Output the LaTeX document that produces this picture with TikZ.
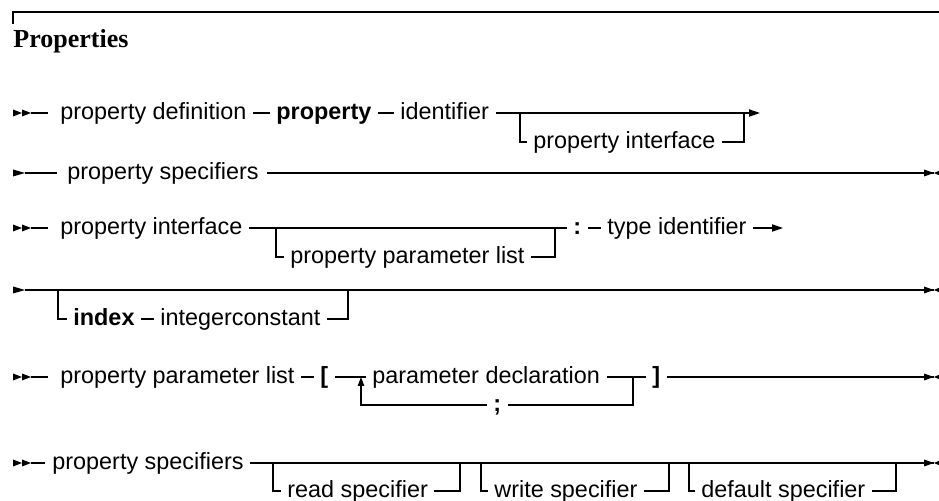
\documentclass[tikz,border=0pt]{standalone}
\usepackage{fontspec}
\setmainfont{Liberation Sans}
\newfontfamily\headfont{Liberation Serif}
\usetikzlibrary{arrows.meta,calc}
\begin{document}
\begin{tikzpicture}[x=0.5pt,y=-0.5pt,
  every node/.style={font=\fontsize{11.7}{14}\selectfont},
  tok/.style={anchor=west, inner xsep=0pt, inner ysep=0pt, text height=6.1pt, text depth=0pt},
  ln/.style={line width=0.6pt},
  gap/.style={shorten <=3.25pt, shorten >=3.25pt},
  tip/.style={-{Triangle[length=5.5pt,width=3.6pt]}},
  dbl/.pic={\fill (0,-3.5) -- (9,0) -- (0,3.5) -- cycle; \fill (9,-3.5) -- (18,0) -- (9,3.5) -- cycle;},
  sgl/.pic={\fill (0,-3.5) -- (12,0) -- (0,3.5) -- cycle;},
  endm/.pic={\fill (-10,-3.5) -- (0,0) -- (-10,3.5) -- cycle; \fill (8,-3.5) -- (0,0) -- (8,3.5) -- cycle;},
]
\useasboundingbox (0,0) rectangle (939,501);

% heading
\coordinate (r0) at (13,24);
\coordinate (r1) at (13,12);
\coordinate (r2) at (939,12);
\draw[line width=0.7pt] (r0) -- (r1) -- (r2);
\node[anchor=base west, inner sep=0pt, font=\headfont\bfseries\fontsize{13}{15}\selectfont] (title) at (13,48) {Properties};

% row 1
\pic at (13,113) {dbl};
\coordinate (s1e) at (31,113);
\node[tok] (a1) at (60,113) {property definition};
\node[tok] (a2) at (276,113) {\bfseries property};
\node[tok] (a3) at (400,113) {identifier};
\coordinate (j1) at (520,113);
\coordinate (k1) at (744,113);
\coordinate (e1) at (760,113);
\node[tok] (a4) at (533,142) {property interface};
\draw[ln,shorten >=6pt] (s1e) -- (a1.west);
\draw[ln,gap] (a1.east) -- (a2.west);
\draw[ln,gap] (a2.east) -- (a3.west);
\draw[ln,tip,shorten <=3.25pt] (a3.east) -- (e1);
\draw[ln,shorten >=3pt] (j1) |- (a4.west);
\draw[ln,shorten <=3.25pt] (a4.east) -| (k1);

% row 2
\pic at (13,173) {sgl};
\coordinate (s2e) at (25,173);
\node[tok] (b1) at (67,173) {property specifiers};
\coordinate (e2) at (934,173);
\draw[ln,shorten >=5pt] (s2e) -- (b1.west);
\draw[ln,shorten <=4pt] (b1.east) -- (e2);
\pic at (e2) {endm};

% row 3
\pic at (13,228) {dbl};
\coordinate (s3e) at (31,228);
\node[tok] (c1) at (60,228) {property interface};
\coordinate (j3) at (276,228);
\coordinate (k3) at (555,228);
\node[tok] (c2) at (290,257) {property parameter list};
\node[tok] (c3) at (573,228) {\bfseries :};
\node[tok] (c4) at (607,228) {type identifier};
\coordinate (e3) at (783,228);
\draw[ln,shorten >=6pt] (s3e) -- (c1.west);
\draw[ln,gap] (c1.east) -- (c3.west);
\draw[ln,shorten >=3pt] (j3) |- (c2.west);
\draw[ln,shorten <=3.25pt] (c2.east) -| (k3);
\draw[ln,gap] (c3.east) -- (c4.west);
\draw[ln,tip,shorten <=3.25pt] (c4.east) -- (e3);

% row 4
\pic at (13,290) {sgl};
\coordinate (s4e) at (25,290);
\coordinate (j4) at (58,290);
\coordinate (k4) at (348,290);
\coordinate (e4) at (934,290);
\node[tok] (d1) at (73,319) {\bfseries index};
\node[tok] (d2) at (160,319) {integerconstant};
\draw[ln] (s4e) -- (e4);
\draw[ln,shorten >=3pt] (j4) |- (d1.west);
\draw[ln,gap] (d1.east) -- (d2.west);
\draw[ln,shorten <=3.25pt] (d2.east) -| (k4);
\pic at (e4) {endm};

% row 5
\pic at (13,377) {dbl};
\coordinate (s5e) at (31,377);
\node[tok] (f1) at (60,377) {property parameter list};
\node[tok] (f2) at (320,377) {\bfseries [};
\coordinate (j5) at (361,377);
\node[tok] (f3) at (372,377) {parameter declaration};
\coordinate (k5) at (633,377);
\node[tok] (f4) at (493,405) {\bfseries ;};
\node[tok] (f5) at (652,377) {\bfseries ]};
\coordinate (e5) at (934,377);
\draw[ln,shorten >=6pt] (s5e) -- (f1.west);
\draw[ln,gap] (f1.east) -- (f2.west);
\draw[ln,gap] (f2.east) -- (f3.west);
\draw[ln,gap] (f3.east) -- (f5.west);
\draw[ln,shorten <=3.25pt] (f5.east) -- (e5);
\draw[ln,shorten <=3.25pt] (f4.east) -| (k5);
\draw[ln,shorten <=3.25pt,-{Triangle[length=4.5pt,width=3.2pt]}] (f4.west) -| (j5);
\pic at (e5) {endm};

% row 6
\pic at (13,463) {dbl};
\coordinate (s6e) at (31,463);
\node[tok] (g1) at (52,463) {property specifiers};
\coordinate (j6a) at (273,463);
\coordinate (k6a) at (460,463);
\coordinate (j6b) at (481,463);
\coordinate (k6b) at (669,463);
\coordinate (j6c) at (689,463);
\coordinate (k6c) at (896,463);
\coordinate (e6) at (934,463);
\node[tok] (g2) at (287,491) {read specifier};
\node[tok] (g3) at (494,491) {write specifier};
\node[tok] (g4) at (701,491) {default specifier};
\draw[ln,shorten >=3.5pt] (s6e) -- (g1.west);
\draw[ln,shorten <=3.25pt] (g1.east) -- (e6);
\draw[ln,shorten >=3pt] (j6a) |- (g2.west);
\draw[ln,shorten <=3pt] (g2.east) -| (k6a);
\draw[ln,shorten >=3pt] (j6b) |- (g3.west);
\draw[ln,shorten <=3pt] (g3.east) -| (k6b);
\draw[ln,shorten >=3pt] (j6c) |- (g4.west);
\draw[ln,shorten <=3pt] (g4.east) -| (k6c);
\pic at (e6) {endm};
\end{tikzpicture}
\end{document}
